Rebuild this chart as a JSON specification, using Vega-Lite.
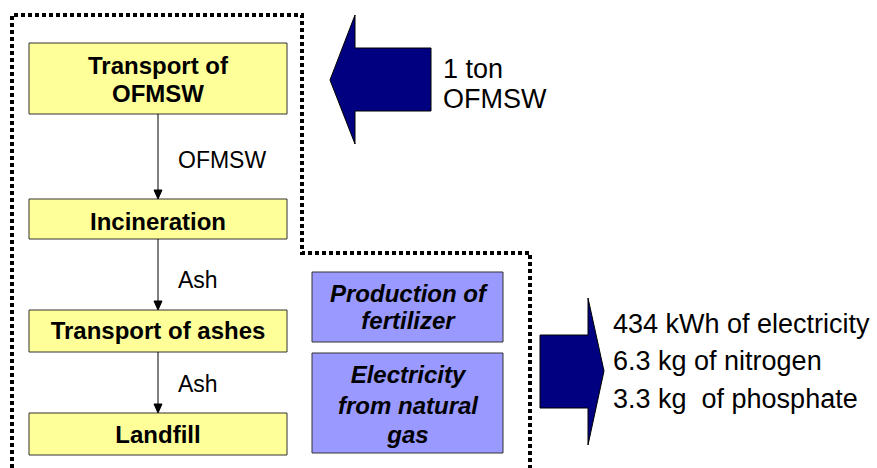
{
  "$schema": "https://vega.github.io/schema/vega-lite/v6.json",
  "width": 877,
  "height": 468,
  "autosize": {"type": "fit", "contains": "padding"},
  "padding": 0,
  "background": "#ffffff",
  "config": {"view": {"stroke": null}},
  "datasets": {
    "frame": [
      {"i": 1, "x": 12, "y": 468}, {"i": 2, "x": 12, "y": 15}, {"i": 3, "x": 302, "y": 15},
      {"i": 4, "x": 302, "y": 253}, {"i": 5, "x": 530, "y": 253}, {"i": 6, "x": 530, "y": 468}
    ],
    "yellow": [
      {"name": "Transport of OFMSW", "x": 29, "x2": 287, "y": 43, "y2": 114},
      {"name": "Incineration", "x": 29, "x2": 287, "y": 199, "y2": 239},
      {"name": "Transport of ashes", "x": 29, "x2": 287, "y": 310, "y2": 352},
      {"name": "Landfill", "x": 29, "x2": 287, "y": 413, "y2": 455}
    ],
    "purple": [
      {"name": "Production of fertilizer", "x": 312, "x2": 503, "y": 272, "y2": 342},
      {"name": "Electricity from natural gas", "x": 312, "x2": 503, "y": 353, "y2": 453}
    ],
    "links": [
      {"from": "Transport of OFMSW", "x": 158, "y": 114, "y2": 191},
      {"from": "Incineration", "x": 158, "y": 239, "y2": 302},
      {"from": "Transport of ashes", "x": 158, "y": 352, "y2": 405}
    ],
    "heads": [
      {"h": "a", "i": 1, "x": 154, "y": 190}, {"h": "a", "i": 2, "x": 162, "y": 190}, {"h": "a", "i": 3, "x": 158, "y": 199},
      {"h": "b", "i": 1, "x": 154, "y": 301}, {"h": "b", "i": 2, "x": 162, "y": 301}, {"h": "b", "i": 3, "x": 158, "y": 310},
      {"h": "c", "i": 1, "x": 154, "y": 404}, {"h": "c", "i": 2, "x": 162, "y": 404}, {"h": "c", "i": 3, "x": 158, "y": 413}
    ],
    "bigarrows": [
      {"a": "in", "i": 1, "x": 330, "y": 80}, {"a": "in", "i": 2, "x": 355, "y": 15}, {"a": "in", "i": 3, "x": 355, "y": 48},
      {"a": "in", "i": 4, "x": 431, "y": 48}, {"a": "in", "i": 5, "x": 431, "y": 111}, {"a": "in", "i": 6, "x": 355, "y": 111},
      {"a": "in", "i": 7, "x": 355, "y": 144},
      {"a": "out", "i": 1, "x": 540, "y": 335}, {"a": "out", "i": 2, "x": 588, "y": 335}, {"a": "out", "i": 3, "x": 588, "y": 298},
      {"a": "out", "i": 4, "x": 604, "y": 371}, {"a": "out", "i": 5, "x": 588, "y": 445}, {"a": "out", "i": 6, "x": 588, "y": 408},
      {"a": "out", "i": 7, "x": 540, "y": 408}
    ],
    "boxtext": [
      {"x": 158, "y": 74, "text": "Transport of"},
      {"x": 158, "y": 102, "text": "OFMSW"},
      {"x": 158, "y": 230, "text": "Incineration"},
      {"x": 158, "y": 339, "text": "Transport of ashes"},
      {"x": 158, "y": 443, "text": "Landfill"}
    ],
    "purpletext": [
      {"x": 408, "y": 302, "text": "Production of"},
      {"x": 408, "y": 329, "text": "fertilizer"},
      {"x": 408, "y": 383, "text": "Electricity"},
      {"x": 408, "y": 414, "text": "from natural"},
      {"x": 408, "y": 443, "text": "gas"}
    ],
    "flowtext": [
      {"x": 178, "y": 168, "text": "OFMSW"},
      {"x": 178, "y": 288, "text": "Ash"},
      {"x": 178, "y": 392, "text": "Ash"}
    ],
    "sidetext": [
      {"x": 443, "y": 78, "text": "1 ton"},
      {"x": 443, "y": 108, "text": "OFMSW"},
      {"x": 613, "y": 333, "text": "434 kWh of electricity"},
      {"x": 613, "y": 370, "text": "6.3 kg of nitrogen"},
      {"x": 613, "y": 408, "text": "3.3 kg\u00a0 of phosphate"}
    ]
  },
  "layer": [
    {
      "data": {"name": "frame"},
      "mark": {"type": "line", "clip": true, "stroke": "#000000", "strokeWidth": 4, "strokeDash": [4, 3], "strokeCap": "butt"},
      "encoding": {
        "x": {"field": "x", "type": "quantitative", "scale": {"domain": [0, 877], "nice": false, "zero": false}, "axis": null},
        "y": {"field": "y", "type": "quantitative", "scale": {"domain": [0, 468], "nice": false, "zero": false, "reverse": true}, "axis": null},
        "order": {"field": "i", "type": "quantitative"}
      }
    },
    {
      "data": {"name": "yellow"},
      "mark": {"type": "rect", "fill": "#FFFF99", "stroke": "#333333", "strokeWidth": 1},
      "encoding": {
        "x": {"field": "x", "type": "quantitative"},
        "x2": {"field": "x2"},
        "y": {"field": "y", "type": "quantitative"},
        "y2": {"field": "y2"}
      }
    },
    {
      "data": {"name": "purple"},
      "mark": {"type": "rect", "fill": "#9999FF", "stroke": "#333333", "strokeWidth": 1},
      "encoding": {
        "x": {"field": "x", "type": "quantitative"},
        "x2": {"field": "x2"},
        "y": {"field": "y", "type": "quantitative"},
        "y2": {"field": "y2"}
      }
    },
    {
      "data": {"name": "links"},
      "mark": {"type": "rule", "stroke": "#000000", "strokeWidth": 1},
      "encoding": {
        "x": {"field": "x", "type": "quantitative"},
        "y": {"field": "y", "type": "quantitative"},
        "y2": {"field": "y2"}
      }
    },
    {
      "data": {"name": "heads"},
      "mark": {"type": "line", "interpolate": "linear-closed", "fill": "#000000", "stroke": "#000000", "strokeWidth": 1},
      "encoding": {
        "x": {"field": "x", "type": "quantitative"},
        "y": {"field": "y", "type": "quantitative"},
        "detail": {"field": "h", "type": "nominal"},
        "order": {"field": "i", "type": "quantitative"}
      }
    },
    {
      "data": {"name": "bigarrows"},
      "mark": {"type": "line", "interpolate": "linear-closed", "fill": "#000080", "stroke": "#000000", "strokeWidth": 1},
      "encoding": {
        "x": {"field": "x", "type": "quantitative"},
        "y": {"field": "y", "type": "quantitative"},
        "detail": {"field": "a", "type": "nominal"},
        "order": {"field": "i", "type": "quantitative"}
      }
    },
    {
      "data": {"name": "boxtext"},
      "mark": {"type": "text", "font": "Liberation Sans", "fontSize": 24, "fontWeight": "bold", "align": "center", "baseline": "alphabetic", "color": "#000000"},
      "encoding": {
        "x": {"field": "x", "type": "quantitative"},
        "y": {"field": "y", "type": "quantitative"},
        "text": {"field": "text"}
      }
    },
    {
      "data": {"name": "purpletext"},
      "mark": {"type": "text", "font": "Liberation Sans", "fontSize": 24, "fontWeight": "bold", "fontStyle": "italic", "align": "center", "baseline": "alphabetic", "color": "#000000"},
      "encoding": {
        "x": {"field": "x", "type": "quantitative"},
        "y": {"field": "y", "type": "quantitative"},
        "text": {"field": "text"}
      }
    },
    {
      "data": {"name": "flowtext"},
      "mark": {"type": "text", "font": "Liberation Sans", "fontSize": 23, "align": "left", "baseline": "alphabetic", "color": "#000000"},
      "encoding": {
        "x": {"field": "x", "type": "quantitative"},
        "y": {"field": "y", "type": "quantitative"},
        "text": {"field": "text"}
      }
    },
    {
      "data": {"name": "sidetext"},
      "mark": {"type": "text", "font": "Liberation Sans", "fontSize": 27, "align": "left", "baseline": "alphabetic", "color": "#000000"},
      "encoding": {
        "x": {"field": "x", "type": "quantitative"},
        "y": {"field": "y", "type": "quantitative"},
        "text": {"field": "text"}
      }
    }
  ]
}
